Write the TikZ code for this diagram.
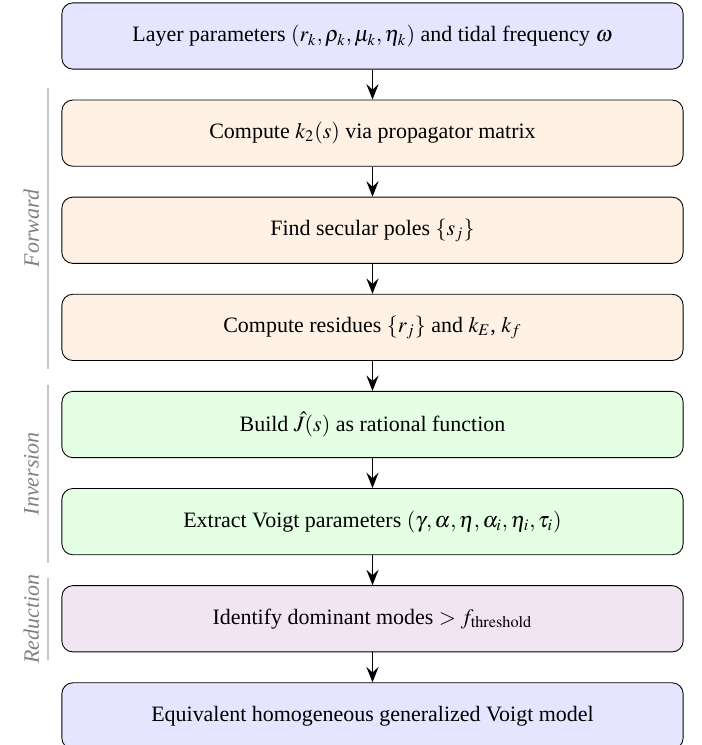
\documentclass[tikz,border=0pt]{standalone}
\usepackage{mathptmx}
\usepackage{fontspec}
\setmainfont{Liberation Serif}
\usetikzlibrary{positioning,calc,arrows.meta}

\begin{document}
\begin{tikzpicture}[
    box/.style = {draw, rounded corners=5pt, minimum width=9.94cm, minimum height=1.06cm, align=center},
    flow/.style = {-{Stealth[length=7pt,width=5.5pt,inset=2.5pt]}, line width=0.8pt},
    phase/.style = {gray!45, line width=0.9pt},
    phaselabel/.style = {gray, font=\itshape, rotate=90},
    node distance = 0.48cm
  ]
  \useasboundingbox (0,0) rectangle (11.23,-11.92);

  % main chain
  \node[box, fill=blue!10] (input) at (5.96,-0.576) {Layer parameters $(r_k, \rho_k, \mu_k, \eta_k)$ and tidal frequency $\omega$};
  \node[box, fill=orange!10, below=of input] (kernel) {Compute $k_2(s)$ via propagator matrix};
  \node[box, fill=orange!10, below=of kernel] (poles) {Find secular poles $\{s_j\}$};
  \node[box, fill=orange!10, below=of poles] (residues) {Compute residues $\{r_j\}$ and $k_E$, $k_f$};
  \node[box, fill=green!10, below=of residues] (rational) {Build $\hat{J}(s)$ as rational function};
  \node[box, fill=green!10, below=of rational] (voigt) {Extract Voigt parameters $(\gamma, \alpha, \eta, \alpha_i, \eta_i, \tau_i)$};
  \node[box, fill=violet!10, below=of voigt] (modes) {Identify dominant modes $> f_{\mathrm{threshold}}$};
  \node[box, fill=blue!10, below=of modes] (output) {Equivalent homogeneous generalized Voigt model};

  \draw[flow] (input) -- (kernel);
  \draw[flow] (kernel) -- (poles);
  \draw[flow] (poles) -- (residues);
  \draw[flow] (residues) -- (rational);
  \draw[flow] (rational) -- (voigt);
  \draw[flow] (voigt) -- (modes);
  \draw[flow] (modes) -- (output);

  % phase brackets
  \coordinate (fwdtop) at ($(kernel.north west)+(-0.22,0.19)$);
  \coordinate (fwdbot) at ($(residues.south west)+(-0.22,-0.13)$);
  \coordinate (invtop) at ($(rational.north west)+(-0.22,0.1)$);
  \coordinate (invbot) at ($(voigt.south west)+(-0.22,-0.12)$);
  \coordinate (redtop) at ($(modes.north west)+(-0.22,0.12)$);
  \coordinate (redbot) at ($(modes.south west)+(-0.22,-0.13)$);
  \draw[phase] (fwdtop) -- (fwdbot);
  \draw[phase] (invtop) -- (invbot);
  \draw[phase] (redtop) -- (redbot);
  \node[phaselabel] (fwdlabel) at ($(fwdtop)!0.5!(fwdbot)+(-0.26,0)$) {Forward};
  \node[phaselabel] (invlabel) at ($(invtop)!0.5!(invbot)+(-0.26,0)$) {Inversion};
  \node[phaselabel] (redlabel) at ($(redtop)!0.5!(redbot)+(-0.26,0)$) {Reduction};
\end{tikzpicture}
\end{document}
